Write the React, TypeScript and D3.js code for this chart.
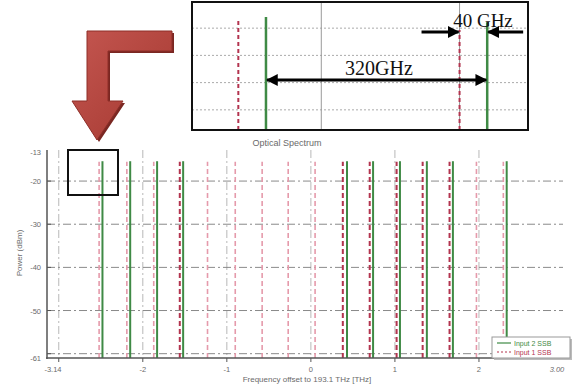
import React from 'react';
import * as d3 from 'd3';

const W = 581;
const H = 387;

// Main spectrum (frequency offset in THz, power in dBm)
const greenFreqs = [-2.48, -2.15, -1.83, -1.52, 0.43, 0.74, 1.06, 1.38, 1.69, 2.33];
const greenPowers = [-15.4, -15.4, -15.4, -15.4, -15.4, -15.4, -15.4, -15.4, -15.4, -15.4];
const redStrongFreqs = [-1.56, 0.38, 0.7, 1.02, 1.33, 1.65];
const redStrongPowers = [-15.5, -15.5, -15.5, -15.5, -15.5, -15.5];
const redLightFreqs = [-2.52, -2.19, -1.87, -1.23, -0.9, -0.58, -0.27, 0.05, 1.97, 2.29];
const redLightPowers = [-15.5, -15.5, -15.5, -15.5, -15.5, -15.5, -15.5, -15.5, -15.5, -15.5];

const xTicks = [-3, -2, -1, 0, 1, 2];
const xTickLabels = ['', '-2', '-1', '0', '1', '2'];
const yTicks = [-20, -30, -40, -50, -60];
const yTickLabels = ['-20', '-30', '-40', '-50', ''];
const xDomain = [-3.14, 3.0];
const yDomain = [-61, -12.8];
const xEndLabels = ['-3.14', '3.00'];
const yEndLabels = ['-13', '-61'];

const legendLabels = ['Input 2 SSB', 'Input 1 SSB'];

// Inset (zoomed view, GHz)
const insetGreenGHz = [0, 320];
const insetGreenPowers = [-15.9, -17.8];
const insetRedGHz = [-40, 280];
const insetRedPowers = [-16.3, -20.7];
const insetGridV = [80, 280];
const insetGridH = [-20, -30, -40, -50];
const insetXDomain = [-107, 379];
const insetYDomain = [-57.4, -10.4];

const GREEN = '#3f8a45';
const RED = '#b3344f';
const PINK = '#e59aab';
const GRID = '#8a8a8a';
const TXT = '#6a6a6a';

export default function App() {
  const x = d3.scaleLinear().domain(xDomain).range([47, 563]);
  const y = d3.scaleLinear().domain(yDomain).range([358, 150]);

  const ix = d3.scaleLinear().domain(insetXDomain).range([192, 528]);
  const iy = d3.scaleLinear().domain(insetYDomain).range([130, 2]);

  const arrowPath =
    'M172,31 L87,31 L87,101 L72,101 L97,140 L123,101 L108,101 L108,51 L172,51 Z';

  return (
    <svg
      width={W}
      height={H}
      style={{ position: 'absolute', left: 0, top: 0, background: '#fff' }}
      fontFamily="Liberation Sans, Arial, sans-serif"
    >
      <defs>
        <marker id="ah" viewBox="0 0 10 10" refX="9" refY="5" markerWidth="4" markerHeight="4" orient="auto-start-reverse">
          <path d="M0,0 L10,5 L0,10 Z" fill="#000" />
        </marker>
        <linearGradient id="arrowGrad" x1="0" y1="0" x2="1" y2="1">
          <stop offset="0" stopColor="#c45650" />
          <stop offset="1" stopColor="#a3372f" />
        </linearGradient>
      </defs>

      {/* Big red arrow */}
      <path d={arrowPath} fill="#7a2722" transform="translate(2,2)" />
      <path d={arrowPath} fill="url(#arrowGrad)" stroke="#8e2f29" strokeWidth={1} />

      {/* Inset */}
      <g>
        <rect x={192} y={2} width={336} height={128} fill="#fff" />
        {insetGridH.map((v) => (
          <line key={'ih' + v} x1={192} x2={528} y1={iy(v)} y2={iy(v)} stroke="#aaa" strokeWidth={1} strokeDasharray="2,2" />
        ))}
        {insetGridV.map((v) => (
          <line key={'iv' + v} x1={ix(v)} x2={ix(v)} y1={2} y2={130} stroke="#999" strokeWidth={1} />
        ))}
        {insetRedGHz.map((f, i) => (
          <line key={'ir' + i} x1={ix(f)} x2={ix(f)} y1={130} y2={iy(insetRedPowers[i])} stroke={RED} strokeWidth={2} strokeDasharray="4,3" />
        ))}
        {insetGreenGHz.map((f, i) => (
          <line key={'ig' + i} x1={ix(f)} x2={ix(f)} y1={130} y2={iy(insetGreenPowers[i])} stroke={GREEN} strokeWidth={2.5} />
        ))}
        {/* 40 GHz arrows */}
        <line x1={ix(225)} x2={ix(insetRedGHz[1]) - 1} y1={32} y2={32} stroke="#000" strokeWidth={3} markerEnd="url(#ah)" />
        <line x1={ix(372)} x2={ix(insetGreenGHz[1]) + 1} y1={32} y2={32} stroke="#000" strokeWidth={3} markerEnd="url(#ah)" />
        <text x={483} y={27} textAnchor="middle" fontFamily="Liberation Serif, Times New Roman, serif" fontSize={19} fill="#111">40 GHz</text>
        {/* 320 GHz double arrow */}
        <line x1={ix(insetGreenGHz[0]) + 1} x2={ix(insetGreenGHz[1]) - 1} y1={80} y2={80} stroke="#000" strokeWidth={3} markerStart="url(#ah)" markerEnd="url(#ah)" />
        <text x={379} y={75} textAnchor="middle" fontFamily="Liberation Serif, Times New Roman, serif" fontSize={20} fill="#111">320GHz</text>
        <rect x={192} y={2} width={336} height={128} fill="none" stroke="#111" strokeWidth={2} />
        <text x={287} y={146} textAnchor="middle" fontSize={9} fill={TXT}>Optical Spectrum</text>
      </g>

      {/* Main plot grid */}
      {yTicks.map((v) => (
        <line key={'gh' + v} x1={47} x2={563} y1={y(v)} y2={y(v)} stroke={GRID} strokeWidth={1} strokeDasharray="8,3,2,3" />
      ))}
      {xTicks.map((v) => (
        <line key={'gv' + v} x1={x(v)} x2={x(v)} y1={150} y2={358} stroke={GRID} strokeWidth={1} strokeDasharray="8,3,2,3" opacity={0.6} />
      ))}

      {/* Spectral lines */}
      {redLightFreqs.map((f, i) => (
        <line key={'rl' + i} x1={x(f)} x2={x(f)} y1={358} y2={y(redLightPowers[i])} stroke={PINK} strokeWidth={1.6} strokeDasharray="5,3" />
      ))}
      {redStrongFreqs.map((f, i) => (
        <line key={'rs' + i} x1={x(f)} x2={x(f)} y1={358} y2={y(redStrongPowers[i])} stroke={RED} strokeWidth={2} strokeDasharray="5,3" />
      ))}
      {greenFreqs.map((f, i) => (
        <line key={'g' + i} x1={x(f)} x2={x(f)} y1={358} y2={y(greenPowers[i])} stroke={GREEN} strokeWidth={2} />
      ))}

      {/* Axes */}
      <line x1={47} x2={47} y1={150} y2={359} stroke="#555" strokeWidth={1.5} />
      <line x1={46} x2={563} y1={358} y2={358} stroke="#555" strokeWidth={1.5} />
      {yTicks.map((v, i) => (
        <g key={'yt' + v}>
          <line x1={47} x2={51} y1={y(v)} y2={y(v)} stroke="#555" />
          <text x={41} y={y(v) + 3} textAnchor="end" fontSize={7.5} fill={TXT}>{yTickLabels[i]}</text>
        </g>
      ))}
      <text x={41} y={155} textAnchor="end" fontSize={7.5} fill={TXT}>{yEndLabels[0]}</text>
      <text x={41} y={361} textAnchor="end" fontSize={7.5} fill={TXT}>{yEndLabels[1]}</text>
      {xTicks.map((v, i) => (
        <g key={'xt' + v}>
          <line x1={x(v)} x2={x(v)} y1={358} y2={362} stroke="#555" />
          <text x={x(v)} y={372} textAnchor="middle" fontSize={7.5} fill={TXT}>{xTickLabels[i]}</text>
        </g>
      ))}
      <text x={53} y={372} textAnchor="middle" fontSize={7.5} fill={TXT}>{xEndLabels[0]}</text>
      <text x={557} y={372} textAnchor="middle" fontSize={7.5} fontStyle="italic" fill={TXT}>{xEndLabels[1]}</text>

      <text transform="translate(22,253) rotate(-90)" textAnchor="middle" fontSize={8} fill={TXT}>Power (dBm)</text>
      <text x={307} y={382} textAnchor="middle" fontSize={8} fill={TXT}>Frequency offset to 193.1 THz [THz]</text>

      {/* Highlight box */}
      <rect x={68} y={150} width={50} height={45} fill="none" stroke="#111" strokeWidth={2} />

      {/* Legend */}
      <rect x={494} y={339} width={78} height={21} fill="#bbb" />
      <rect x={492} y={337} width={78} height={21} fill="#fff" stroke="#999" strokeWidth={1} />
      <line x1={497} x2={511} y1={343} y2={343} stroke={GREEN} strokeWidth={1.2} />
      <text x={514} y={345.5} fontSize={7} fill={GREEN}>{legendLabels[0]}</text>
      <line x1={497} x2={511} y1={352} y2={352} stroke={RED} strokeWidth={1.2} strokeDasharray="2,2" />
      <text x={514} y={354.5} fontSize={7} fill={RED}>{legendLabels[1]}</text>
    </svg>
  );
}
